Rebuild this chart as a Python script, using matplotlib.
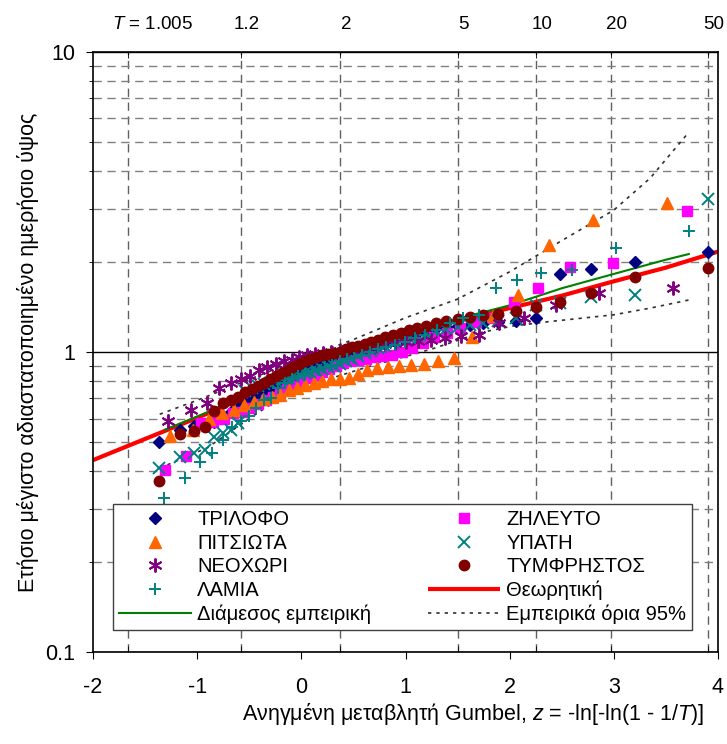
"""Gumbel probability plot of normalised annual maximum daily rainfall per station."""

import numpy as np
import matplotlib

matplotlib.use("Agg")
import matplotlib.pyplot as plt  # noqa: E402
from matplotlib.ticker import FixedLocator, FuncFormatter, NullFormatter  # noqa: E402

plt.rcParams.update({
    "font.family": ["Liberation Sans", "DejaVu Sans"],
    "font.size": 14.5,
    "mathtext.fontset": "custom",
    "mathtext.rm": "Liberation Sans",
    "mathtext.it": "Liberation Sans:italic",
    "axes.unicode_minus": False,
})

# annual maxima divided by the station mean, sorted ascending
trilofo = [0.50, 0.55, 0.565, 0.575, 0.585, 0.61, 0.63, 0.65, 0.67, 0.69,
           0.71, 0.73, 0.75, 0.77, 0.79, 0.81, 0.83, 0.85, 0.87, 0.89,
           0.91, 0.93, 0.945, 0.96, 0.975, 0.99, 1.0, 1.01, 1.025, 1.04,
           1.06, 1.08, 1.10, 1.12, 1.14, 1.16, 1.18, 1.20, 1.21, 1.22,
           1.23, 1.25, 1.26, 1.27, 1.30, 1.82, 1.89, 1.99, 2.15]
zileyto = [0.405, 0.45, 0.58, 0.585, 0.60, 0.626, 0.63, 0.65, 0.67, 0.69,
           0.71, 0.73, 0.75, 0.77, 0.79, 0.82, 0.84, 0.86, 0.88, 0.90,
           0.92, 0.93, 0.94, 0.95, 0.96, 0.97, 0.98, 1.0, 1.03, 1.07,
           1.12, 1.16, 1.20, 1.26, 1.30, 1.47, 1.63, 1.92, 1.98, 2.95]
pitsiota = [0.525, 0.55, 0.60, 0.626, 0.64, 0.665, 0.68, 0.695, 0.71, 0.72,
            0.745, 0.76, 0.775, 0.79, 0.80, 0.81, 0.815, 0.82, 0.845, 0.87,
            0.885, 0.89, 0.895, 0.905, 0.915, 0.93, 0.955, 1.12, 1.32, 1.55,
            2.27, 2.75, 3.14]
ypati = [0.41, 0.447, 0.46, 0.47, 0.52, 0.537, 0.55, 0.58, 0.74, 0.76,
         0.77, 0.78, 0.79, 0.80, 0.81, 0.82, 0.83, 0.84, 0.85, 0.86,
         0.87, 0.88, 0.89, 0.90, 0.91, 0.93, 0.95, 0.97, 0.99, 1.01,
         1.03, 1.05, 1.07, 1.09, 1.11, 1.13, 1.15, 1.17, 1.19, 1.21,
         1.23, 1.25, 1.27, 1.30, 1.43, 1.46, 1.53, 1.55, 3.24]
neochori = [0.59, 0.64, 0.675, 0.76, 0.79, 0.81, 0.83, 0.87, 0.89, 0.91,
            0.93, 0.94, 0.96, 0.975, 0.985, 0.995, 1.0, 1.01, 1.02, 1.03,
            1.04, 1.05, 1.06, 1.07, 1.08, 1.09, 1.10, 1.11, 1.13, 1.14,
            1.25, 1.30, 1.43, 1.57, 1.63]
tymfristos = [0.37, 0.533, 0.545, 0.56, 0.636, 0.676, 0.69, 0.71, 0.735, 0.75,
              0.77, 0.79, 0.81, 0.83, 0.85, 0.87, 0.89, 0.91, 0.93, 0.95,
              0.965, 0.975, 0.985, 0.99, 1.0, 1.02, 1.035, 1.05, 1.065, 1.08,
              1.10, 1.12, 1.14, 1.16, 1.18, 1.20, 1.22, 1.25, 1.27, 1.29,
              1.31, 1.33, 1.335, 1.37, 1.41, 1.47, 1.57, 1.78, 1.90]
lamia = [0.326, 0.38, 0.43, 0.46, 0.51, 0.56, 0.59, 0.61, 0.65, 0.69,
         0.70, 0.76, 0.79, 0.81, 0.83, 0.845, 0.855, 0.87, 0.89, 0.905,
         0.93, 0.945, 0.955, 0.98, 1.0, 1.02, 1.04, 1.055, 1.08, 1.11,
         1.14, 1.18, 1.25, 1.30, 1.33, 1.63, 1.74, 1.83, 1.88, 2.22, 2.53]

# fitted (theoretical) curve
theory_z = [-2.0, -1.5, -1.0, -0.5, 0.0, 0.5, 1.0, 1.5, 2.0, 2.5, 3.0, 3.5, 4.0]
theory_y = [0.436, 0.513, 0.603, 0.715, 0.86, 1.0, 1.14, 1.27, 1.40, 1.54, 1.72, 1.91, 2.16]

# median of the empirical curves and their 95% envelope
median_z = [-1.31, -0.9, -0.5, 0.0, 0.5, 1.0, 1.5, 2.0, 2.5, 3.0, 3.5, 3.72]
median_y = [0.55, 0.63, 0.73, 0.87, 1.01, 1.15, 1.29, 1.43, 1.63, 1.82, 2.03, 2.12]
upper_z = [-1.36, -1.0, -0.5, 0.0, 0.5, 1.0, 1.5, 2.0, 2.5, 3.0, 3.35, 3.72]
upper_y = [0.62, 0.69, 0.81, 0.95, 1.10, 1.30, 1.50, 1.85, 2.35, 2.97, 3.8, 5.4]
lower_z = [-1.36, -0.9, -0.5, -0.18, 0.2, 0.63, 0.95, 1.28, 1.72, 2.03, 2.36, 3.0, 3.35, 3.72]
lower_y = [0.41, 0.48, 0.60, 0.71, 0.80, 0.89, 0.955, 1.03, 1.16, 1.22, 1.26, 1.33, 1.40, 1.49]

return_periods = [1.005, 1.2, 2, 5, 10, 20, 50]
x_ticks = [-2, -1, 0, 1, 2, 3, 4]
y_ticks = [0.1, 1, 10]


def gumbel_z(values):
    # Weibull plotting position i/(n+1) -> Gumbel reduced variate
    n = len(values)
    rank = np.arange(1, n + 1)
    return -np.log(-np.log(rank / (n + 1.0)))


def t_to_z(t):
    return -np.log(-np.log(1.0 - 1.0 / np.asarray(t, dtype=float)))


fig = plt.figure(figsize=(7.27, 7.44), dpi=100)
ax = fig.add_axes([0.128, 0.1237, 0.8596, 0.8065])
ax.set_xlim(-2, 4)
ax.set_yscale("log")
ax.set_ylim(0.1, 10)
ax.set_axisbelow(True)

zt = t_to_z(return_periods)

ax.set_xticks(x_ticks)
ax.set_xticklabels([str(v) for v in x_ticks])
ax.xaxis.set_minor_locator(FixedLocator(zt))
ax.yaxis.set_major_locator(FixedLocator(y_ticks))
ax.yaxis.set_major_formatter(FuncFormatter(lambda v, _: f"{v:g}"))
ax.yaxis.set_minor_locator(FixedLocator(
    [m * d for d in (0.1, 1) for m in range(2, 10)]))
ax.yaxis.set_minor_formatter(NullFormatter())

ax.tick_params(axis="x", which="major", direction="out", length=5, pad=13,
               labelsize=15.5)
ax.tick_params(axis="x", which="minor", direction="in", length=4,
               top=True, bottom=True)
ax.tick_params(axis="y", which="major", direction="out", length=5, pad=8,
               labelsize=15.5)
ax.tick_params(axis="y", which="minor", direction="out", length=3)

ax.yaxis.grid(True, which="minor", color="#808080", ls=(0, (6, 4)), lw=1.0)
ax.yaxis.grid(True, which="major", color="black", ls="-", lw=1.0)
ax.xaxis.grid(True, which="minor", color="#606060", ls=(0, (6, 4)), lw=1.0)
for sp in ax.spines.values():
    sp.set_linewidth(1.2)

# return period labels along the top
for i, (t, z) in enumerate(zip(return_periods, zt)):
    if i == 0:
        ax.text(z - 0.15, 1.045, f"$T$ = {t:g}", transform=ax.get_xaxis_transform(),
                ha="left", va="center", fontsize=13.5)
    else:
        ax.text(z + 0.06, 1.045, f"{t:g}", transform=ax.get_xaxis_transform(),
                ha="center", va="center", fontsize=13.5)

# curves
h_theory, = ax.plot(theory_z, theory_y, color="#ff0000", lw=3, zorder=2,
                    solid_capstyle="butt", label="Θεωρητική")
h_median, = ax.plot(median_z, median_y, color="#008000", lw=1.5, zorder=2,
                    label="Διάμεσος εμπειρική")
h_bounds, = ax.plot(upper_z, upper_y, color="#303030", lw=1.2, ls=(0, (2, 3)),
                    zorder=2, label="Εμπειρικά όρια 95%")
ax.plot(lower_z, lower_y, color="#303030", lw=1.2, ls=(0, (2, 3)), zorder=2)

stations = [
    ("ΤΡΙΛΟΦΟ", trilofo, "D", "#000080", 6.5, 1.0),
    ("ΖΗΛΕΥΤΟ", zileyto, "s", "#ff00ff", 7, 1.0),
    ("ΠΙΤΣΙΩΤΑ", pitsiota, "^", "#ff6600", 8.5, 1.0),
    ("ΥΠΑΤΗ", ypati, "x", "#008080", 8, 1.4),
    ("ΝΕΟΧΩΡΙ", neochori, (6, 2, 0), "#800080", 10, 1.4),
    ("ΤΥΜΦΡΗΣΤΟΣ", tymfristos, "o", "#800000", 7.5, 1.0),
    ("ΛΑΜΙΑ", lamia, "+", "#008080", 9, 1.4),
]
handles = {}
for k, (name, vals, mk, col, ms, mew) in enumerate(stations):
    h, = ax.plot(gumbel_z(vals), vals, ls="none", marker=mk, ms=ms, mew=mew,
                 color=col, mec=col, zorder=3 + k, label=name)
    handles[name] = h

order = [handles["ΤΡΙΛΟΦΟ"], handles["ΠΙΤΣΙΩΤΑ"], handles["ΝΕΟΧΩΡΙ"],
         handles["ΛΑΜΙΑ"], h_median,
         handles["ΖΗΛΕΥΤΟ"], handles["ΥΠΑΤΗ"], handles["ΤΥΜΦΡΗΣΤΟΣ"],
         h_theory, h_bounds]
leg = fig.legend(handles=order, labels=[h.get_label() for h in order],
                 ncol=2, loc="upper left", bbox_to_anchor=(0.155, 0.322),
                 frameon=True, fancybox=False, edgecolor="#404040",
                 framealpha=1.0, handlelength=3.6, handletextpad=0.3,
                 columnspacing=2.8, labelspacing=0.22, borderpad=0.3,
                 borderaxespad=0.0, fontsize=14.5)
leg.get_frame().set_linewidth(1.0)
leg.set_zorder(20)

ax.set_xlabel("Ανηγμένη μεταβλητή Gumbel, $z$ = -ln[-ln(1 - 1/$T$)]", fontsize=15.5)
ax.set_ylabel("Ετήσιο μέγιστο αδιαστατοποιημένο ημερήσιο ύψος", fontsize=15.5)
ax.xaxis.set_label_coords(0.608, -0.081)
ax.yaxis.set_label_coords(-0.086, 0.5)

fig.savefig("out.png", dpi=100)
plt.close(fig)
